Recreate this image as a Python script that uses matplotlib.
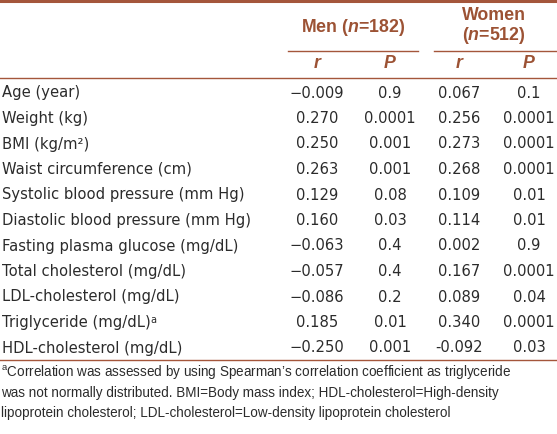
import matplotlib
matplotlib.use("Agg")
import matplotlib.pyplot as plt

plt.rcParams["font.family"] = "Liberation Sans"
plt.rcParams["mathtext.fontset"] = "custom"
plt.rcParams["mathtext.rm"] = "Liberation Sans"
plt.rcParams["mathtext.it"] = "Liberation Sans:italic:bold"
plt.rcParams["mathtext.bf"] = "Liberation Sans:bold"

# table content
variables = [
    "Age (year)",
    "Weight (kg)",
    "BMI (kg/m²)",
    "Waist circumference (cm)",
    "Systolic blood pressure (mm Hg)",
    "Diastolic blood pressure (mm Hg)",
    "Fasting plasma glucose (mg/dL)",
    "Total cholesterol (mg/dL)",
    "LDL-cholesterol (mg/dL)",
    "Triglyceride (mg/dL)",
    "HDL-cholesterol (mg/dL)",
]
men_r = ["−0.009", "0.270", "0.250", "0.263", "0.129", "0.160", "−0.063", "−0.057", "−0.086", "0.185", "−0.250"]
men_p = ["0.9", "0.0001", "0.001", "0.001", "0.08", "0.03", "0.4", "0.4", "0.2", "0.01", "0.001"]
women_r = ["0.067", "0.256", "0.273", "0.268", "0.109", "0.114", "0.002", "0.167", "0.089", "0.340", "-0.092"]
women_p = ["0.1", "0.0001", "0.0001", "0.0001", "0.01", "0.01", "0.9", "0.0001", "0.04", "0.0001", "0.03"]
footnote = [
    "$^{\\mathrm{a}}$Correlation was assessed by using Spearman’s correlation coefficient as triglyceride",
    "was not normally distributed. BMI=Body mass index; HDL-cholesterol=High-density",
    "lipoprotein cholesterol; LDL-cholesterol=Low-density lipoprotein cholesterol",
]

W, H = 557, 434
brown = "#a4563b"
head_col = "#9c5234"
txt_col = "#2b2b2b"
body_font = "DejaVu Sans"

fig = plt.figure(figsize=(W / 100, H / 100), dpi=100)
ax = fig.add_axes([0, 0, 1, 1])
ax.set_xlim(0, W)
ax.set_ylim(H, 0)
ax.axis("off")

cols = [317, 390, 459, 529]
fs = 10.6
hfs = 12.8

# rules
ax.plot([0, W], [1, 1], color=brown, lw=2.2)
ax.plot([288, 418], [51, 51], color=brown, lw=1)
ax.plot([434, W], [51, 51], color=brown, lw=1)
ax.plot([0, W], [78, 78], color=brown, lw=1)
ax.plot([0, W], [360, 360], color=brown, lw=1)

# headers
ax.text(353, 27, "Men ($n$=182)", ha="center", va="center", fontsize=hfs,
        fontweight="bold", color=head_col)
ax.text(494, 15, "Women", ha="center", va="center", fontsize=hfs,
        fontweight="bold", color=head_col)
ax.text(494, 35, "($n$=512)", ha="center", va="center", fontsize=hfs,
        fontweight="bold", color=head_col)
for x, lab in zip(cols, ["r", "P", "r", "P"]):
    ax.text(x, 64, lab, ha="center", va="center", fontsize=hfs,
            fontweight="bold", fontstyle="italic", color=head_col)

# body
y0, dy = 93, 25.5
for i, name in enumerate(variables):
    y = y0 + i * dy
    t = ax.text(2, y, name, ha="left", va="center", fontsize=fs, color=txt_col,
                family=body_font)
    if name.startswith("Triglyceride"):
        ax.annotate("a", xy=(1, 1), xycoords=t, xytext=(0, 0),
                    textcoords="offset points", ha="left", va="top",
                    fontsize=7, color=txt_col, family=body_font)
    for x, col in zip(cols, [men_r, men_p, women_r, women_p]):
        ax.text(x, y, col[i], ha="center", va="center", fontsize=fs,
                color=txt_col, family=body_font)

for i, line in enumerate(footnote):
    ax.text(1, 373 + i * 20, line, ha="left", va="center", fontsize=9.75,
            color=txt_col)

fig.savefig("out.png", dpi=100)
